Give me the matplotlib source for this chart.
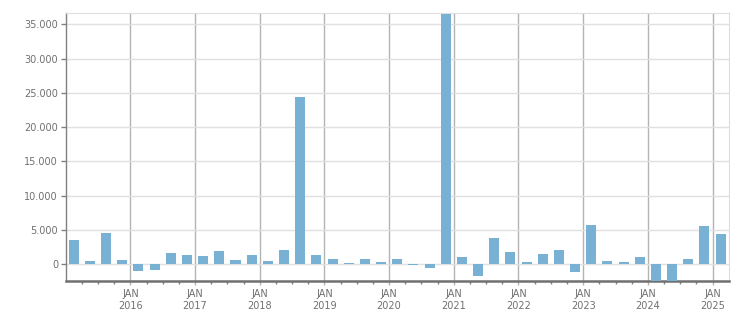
import numpy as np
import pandas as pd
from matplotlib import pyplot as plt
from matplotlib.ticker import FuncFormatter, FixedLocator

# quarterly values, Q1 2015 .. Q1 2025
quarters = pd.period_range('2015Q1', '2025Q1', freq='Q')
values = [
    3550, 490, 4570, 630,          # 2015
    -920, -780, 1650, 1360,        # 2016
    1220, 1940, 630, 1360,         # 2017
    490, 2090, 24400, 1360,        # 2018
    780, 190, 780, 340,            # 2019
    780, -80, -490, 36500,         # 2020
    1070, -1700, 3840, 1800,       # 2021
    340, 1510, 2090, -1120,        # 2022
    5740, 490, 340, 1070,          # 2023
    -3200, -3000, 780, 5590,       # 2024
    4420,                          # 2025
]
years = list(range(2016, 2026))
year_labels = ['JAN\n%d' % y for y in years]

bar_color = '#78b1d3'
text_color = '#707070'

pos = np.array([p.year + (p.quarter - 1) / 4 + 0.125 for p in quarters])

fig = plt.figure(figsize=(7.51, 3.13), dpi=100)
ax = fig.add_axes([0.0875, 0.1022, 0.8828, 0.8553])

ax.bar(pos, values, width=0.155, color=bar_color, zorder=3)

ax.set_xlim(2015.0, 2025.25)
ax.set_ylim(-2440, 36600)

ax.yaxis.set_major_locator(FixedLocator(np.arange(0, 35001, 5000)))
ax.yaxis.set_major_formatter(FuncFormatter(lambda v, p: '{:,.0f}'.format(v).replace(',', '.')))
ax.set_xticks(years)
ax.set_xticklabels(year_labels)
ax.xaxis.set_minor_locator(FixedLocator(np.arange(2015.25, 2025.25, 0.25)))

ax.grid(axis='y', color='#e0e0e0', linewidth=1, zorder=0)
ax.grid(axis='x', color='#b4b4b4', linewidth=1, zorder=1)
ax.set_axisbelow(True)

ax.tick_params(axis='y', length=3.5, width=1, color='#808080', pad=2,
               labelsize=7, labelcolor=text_color)
ax.tick_params(axis='x', which='major', length=3, width=1, color='#b4b4b4', pad=3,
               labelsize=7, labelcolor=text_color)
ax.tick_params(axis='x', which='minor', length=2, width=1, color='#808080')
for lbl in ax.get_xticklabels():
    lbl.set_linespacing(1.25)

ax.spines['left'].set_color('#808080')
ax.spines['left'].set_linewidth(1)
ax.spines['bottom'].set_color('#707070')
ax.spines['bottom'].set_linewidth(1.8)
ax.spines['top'].set_color('#dddddd')
ax.spines['right'].set_color('#dddddd')

fig.savefig('out.png', dpi=100)
